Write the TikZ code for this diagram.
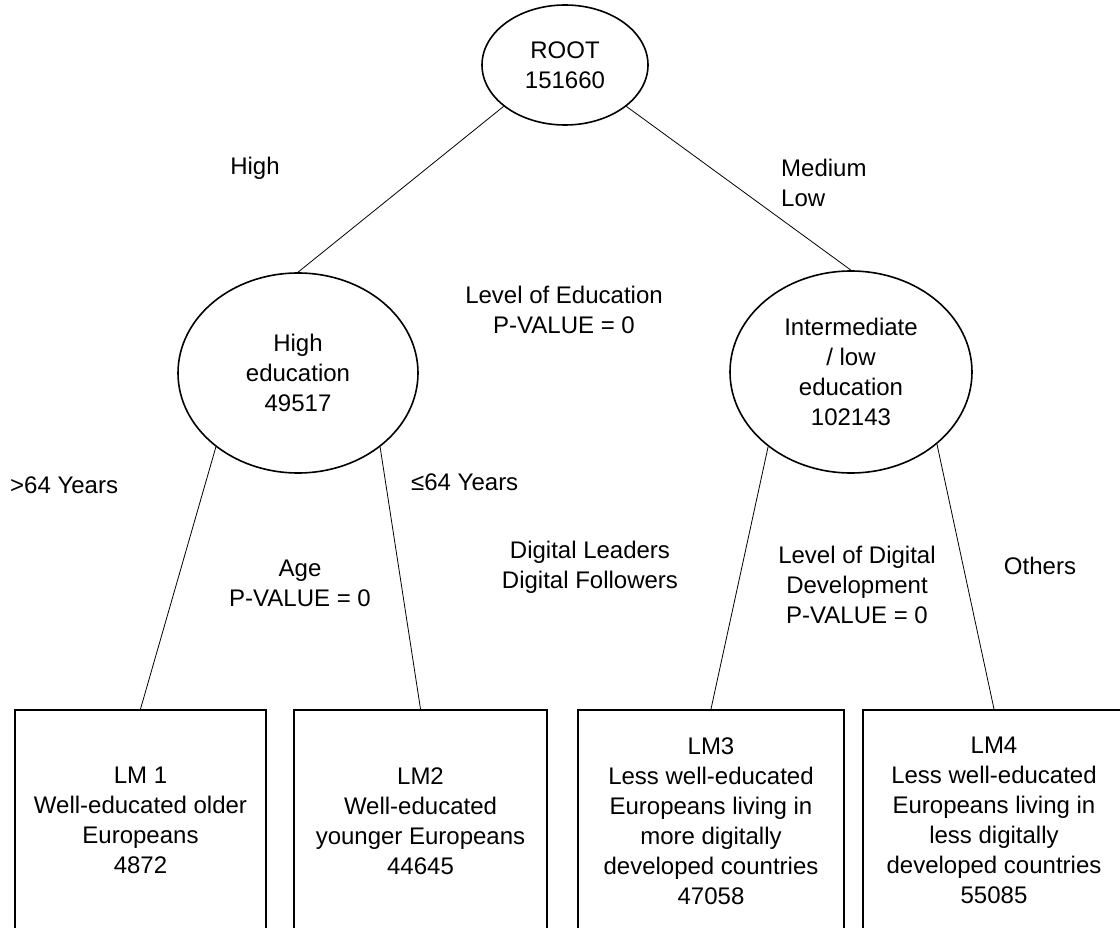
\documentclass[tikz,border=0pt]{standalone}
\usepackage{fontspec}
\setmainfont{Liberation Sans}
\usetikzlibrary{shapes.geometric}

\tikzset{
  txt/.style={font=\fontsize{24}{30}\selectfont, align=center, inner sep=0pt},
  split/.style={ellipse, draw, line width=1.6pt, txt},
  leafbox/.style={rectangle, draw, line width=1.6pt, txt, minimum height=222pt, anchor=north},
  edge/.style={line width=0.8pt}
}

\newcommand{\leaf}[4]{
\node[leafbox, minimum width=#3] (#1) at (#2, 709) {#4};
}

\begin{document}
\begin{tikzpicture}[x=1pt, y=-1pt]
\useasboundingbox (0,0) rectangle (1120,928);
\clip (0,0) rectangle (1120,928);

% splits
\node[split, minimum width=166pt, minimum height=120pt] (root) at (565, 65) {ROOT\\151660};
\node[split, minimum width=240pt, minimum height=200pt] (high) at (298, 373) {High\\education\\49517};
\node[split, minimum width=242pt, minimum height=202pt] (low) at (851, 372) {Intermediate\\/ low\\education\\102143};

% leaves
\leaf{lm1}{140.5}{251pt}{LM 1\\Well-educated older\\Europeans\\4872}
\leaf{lm2}{420.5}{253pt}{LM2\\Well-educated\\younger Europeans\\44645}
\leaf{lm3}{711}{266pt}{LM3\\Less well-educated\\Europeans living in\\more digitally\\developed countries\\47058}
\leaf{lm4}{994}{262pt}{LM4\\Less well-educated\\Europeans living in\\less digitally\\developed countries\\55085}

\draw[edge] (root.214) -- (high.north);
\draw[edge] (root.326) -- (low.north);
\draw[edge] (high.222) -- (lm1.north);
\draw[edge] (high.318) -- (lm2.north);
\draw[edge] (low.222) -- (lm3.north);
\draw[edge] (low.320) -- (lm4.north);

% labels
\node[txt] (hiLbl) at (255, 168) {High};
\node[txt, align=left, anchor=west] (medLbl) at (781, 183) {Medium\\Low};
\node[txt] (eduLbl) at (564, 310) {Level of Education\\P-VALUE = 0};
\node[txt, anchor=west] (oldLbl) at (10, 485) {>64 Years};
\node[txt, anchor=west] (youngLbl) at (411, 482) {≤64 Years};
\node[txt] (ageLbl) at (300, 583) {Age\\P-VALUE = 0};
\node[txt] (leadLbl) at (590, 567) {Digital Leaders\\Digital Followers};
\node[txt] (digLbl) at (857, 585) {Level of Digital\\Development\\P-VALUE = 0};
\node[txt] (othLbl) at (1040, 566) {Others};

\end{tikzpicture}
\end{document}
